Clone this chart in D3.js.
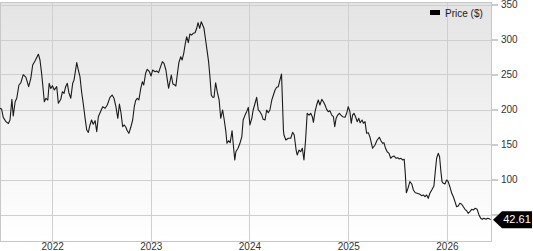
<!DOCTYPE html>
<html>
<head>
<meta charset="utf-8">
<script src="https://cdn.jsdelivr.net/npm/d3@7"></script>
<style>
  body { margin: 0; background: #fff; }
  svg { display: block; font-family: "Liberation Sans", Arial, sans-serif; }
  .tick text { fill: #333; font-size: 10px; }
</style>
</head>
<body>
<svg id="chart" width="533" height="251"></svg>
<script>
// weekly-ish closes
const dates = [
  "2021-06-22","2021-06-28","2021-07-04","2021-07-14","2021-07-23","2021-07-29","2021-08-05","2021-08-10",
  "2021-08-17","2021-08-23","2021-08-31","2021-09-07","2021-09-16","2021-09-26","2021-10-06","2021-10-14",
  "2021-10-21","2021-10-30","2021-11-11","2021-11-17","2021-11-23","2021-11-29","2021-12-03","2021-12-09",
  "2021-12-16","2021-12-21","2021-12-27","2022-01-02","2022-01-09","2022-01-18","2022-01-24","2022-02-02",
  "2022-02-08","2022-02-14","2022-02-20","2022-02-26","2022-03-04","2022-03-11","2022-03-18","2022-03-23",
  "2022-04-02","2022-04-08","2022-04-14","2022-04-20","2022-04-26","2022-05-03","2022-05-09","2022-05-15",
  "2022-05-21","2022-05-27","2022-06-02","2022-06-09","2022-06-15","2022-06-21","2022-06-27","2022-07-07",
  "2022-07-16","2022-07-24","2022-08-03","2022-08-11","2022-08-18","2022-08-25","2022-09-01","2022-09-07",
  "2022-09-13","2022-09-19","2022-09-25","2022-10-01","2022-10-06","2022-10-12","2022-10-19","2022-10-26",
  "2022-11-01","2022-11-06","2022-11-12","2022-11-18","2022-11-25","2022-12-01","2022-12-06","2022-12-13",
  "2022-12-19","2022-12-27","2023-01-02","2023-01-08","2023-01-17","2023-01-23","2023-01-30","2023-02-07",
  "2023-02-13","2023-02-19","2023-02-26","2023-03-03","2023-03-08","2023-03-13","2023-03-18","2023-03-24",
  "2023-03-31","2023-04-04","2023-04-09","2023-04-15","2023-04-22","2023-04-27","2023-05-03","2023-05-09",
  "2023-05-14","2023-05-20","2023-05-26","2023-06-01","2023-06-07","2023-06-14","2023-06-20","2023-06-25",
  "2023-07-01","2023-07-07","2023-07-17","2023-07-23","2023-07-29","2023-08-03","2023-08-08","2023-08-13",
  "2023-08-18","2023-08-23","2023-08-29","2023-09-04","2023-09-11","2023-09-17","2023-09-24","2023-09-30",
  "2023-10-06","2023-10-10","2023-10-16","2023-10-22","2023-10-29","2023-11-02","2023-11-08","2023-11-12",
  "2023-11-20","2023-11-27","2023-12-04","2023-12-09","2023-12-16","2023-12-22","2023-12-28","2024-01-03",
  "2024-01-10","2024-01-15","2024-01-22","2024-01-28","2024-02-03","2024-02-09","2024-02-16","2024-02-21",
  "2024-02-28","2024-03-05","2024-03-11","2024-03-17","2024-03-24","2024-03-30","2024-04-05","2024-04-11",
  "2024-04-17","2024-04-23","2024-04-29","2024-05-06","2024-05-08","2024-05-15","2024-05-24","2024-06-02",
  "2024-06-09","2024-06-15","2024-06-22","2024-06-26","2024-07-03","2024-07-09","2024-07-15","2024-07-21",
  "2024-07-27","2024-08-02","2024-08-09","2024-08-15","2024-08-21","2024-08-25","2024-08-31","2024-09-06",
  "2024-09-12","2024-09-18","2024-09-25","2024-10-01","2024-10-07","2024-10-13","2024-10-19","2024-10-25",
  "2024-11-01","2024-11-07","2024-11-12","2024-11-17","2024-11-23","2024-11-29","2024-12-05","2024-12-11",
  "2024-12-20","2024-12-26","2025-01-01","2025-01-07","2025-01-12","2025-01-17","2025-01-22","2025-01-28",
  "2025-02-03","2025-02-09","2025-02-14","2025-02-21","2025-02-26","2025-03-04","2025-03-10","2025-03-16",
  "2025-03-22","2025-04-01","2025-04-10","2025-04-18","2025-04-26","2025-05-02","2025-05-08","2025-05-13",
  "2025-05-19","2025-05-25","2025-06-01","2025-06-07","2025-06-13","2025-06-19","2025-06-27","2025-07-03",
  "2025-07-09","2025-07-15","2025-07-21","2025-07-27","2025-07-31","2025-08-04","2025-08-10","2025-08-17",
  "2025-08-24","2025-08-30","2025-09-06","2025-09-13","2025-09-21","2025-09-30","2025-10-06","2025-10-12",
  "2025-10-18","2025-10-24","2025-10-30","2025-11-06","2025-11-14","2025-11-19","2025-11-24","2025-11-30",
  "2025-12-05","2025-12-10","2025-12-14","2025-12-19","2025-12-25","2025-12-31","2026-01-06","2026-01-12",
  "2026-01-19","2026-01-25","2026-01-31","2026-02-06","2026-02-12","2026-02-18","2026-02-25","2026-03-03",
  "2026-03-09","2026-03-15","2026-03-21","2026-03-27","2026-04-03","2026-04-09","2026-04-15","2026-04-23",
  "2026-04-30","2026-05-06","2026-05-12","2026-05-18","2026-05-26","2026-06-01","2026-06-07","2026-06-12"
];
const prices = [
  201.6,200.7,188.8,182.6,180,185,214.5,190.7,
  211,216,235,238,249.7,246,232.6,244.5,
  263.6,269.7,279,270.7,251.7,227.9,211,216,
  213.6,237.4,230,234,228,232.6,208.9,214.6,
  225.4,223,232.6,237.4,224,216,237.4,242,
  267,256.4,246.9,225.4,208.9,187.4,170.7,167.4,
  177.9,185,179,184,168.3,189.7,195,204,
  201.7,206.4,217.4,220.7,216,204,187.4,207.9,
  194.6,175.4,177.9,174.6,169.7,166,174.6,185,
  204,212.6,216,213.6,230.3,239.7,235,251.7,
  257.4,254,247.9,256.4,254,255,252.6,262,
  268.3,266,256.4,243,230.3,239.7,249.3,236.4,
  235,233.6,249.3,266.9,275.4,270.7,280.3,294.6,
  304,295.4,307.9,306.4,308.9,309.7,316,324,
  316,325.4,316,299.3,282.6,268.3,246.9,220.7,
  217.4,217.4,238.3,225.4,213.6,187.4,199.3,185,
  168.3,151.7,155.4,152.6,169.7,151.7,127.9,139.7,
  144.6,151.7,161.1,185,192,196.9,203,177.9,
  187.4,199.3,208.9,217.4,199.3,196.9,192,186,
  185,199.3,195.4,199.3,213.6,220.7,227.9,231.7,
  232.6,242.1,250.7,170.7,163.6,156.4,158.9,158.9,
  167.4,163.6,142.1,135,142.1,139.7,144.6,127.9,
  156.4,194.6,192,194.6,189.7,181.7,196.9,206.4,
  213.6,206.4,214.5,211.1,206.4,200.2,196.9,198.3,
  192,189.7,175.4,187.4,192,194.6,192,189.7,
  188.8,194.6,204,196.9,180.3,192,194.6,189.7,
  182.6,187.4,181.1,185,180.3,182.6,166,166.9,
  161.1,144.6,149.3,156.4,160.3,155.4,151.7,152.6,
  144.6,139.7,137.4,130.3,132.6,133.6,130.3,131.2,
  129.3,130.3,127.9,128.9,108.9,81.1,87.4,96.9,
  93.6,85,81.1,80.3,79.3,76.9,77.9,75.4,
  77.9,73.1,80.3,85,90.7,111.1,130.3,137.4,
  132.6,111.1,96.9,94.6,93.6,99.3,96.9,89.7,
  80.3,75.4,68.3,61.1,62.1,66,64.6,61.1,
  57.4,55.4,51.7,54,57.4,56.4,58.9,57.4,
  49.3,44.6,43.1,44.6,43.1,44.6,44,42.61
];
const yTicks = [50, 100, 150, 200, 250, 300, 350];
const xTicks = ["2022-01-01", "2023-01-01", "2024-01-01", "2025-01-01", "2026-01-01"];
const seriesName = "Price ($)";

const parse = d3.timeParse("%Y-%m-%d");
const data = dates.map((d, i) => ({date: parse(d), value: prices[i]}));
const last = data[data.length - 1];

const svg = d3.select("#chart");
const plotLeft = 0, plotRight = 492, plotTop = 2, plotBottom = 241;

const x = d3.scaleTime()
  .domain([parse("2021-06-22"), parse("2026-06-17")])
  .range([plotLeft, plotRight]);
const y = d3.scaleLinear()
  .domain([0, 350])
  .range([249.5, 4.5]);

// background gradient
const grad = svg.append("defs").append("linearGradient")
  .attr("id", "bg").attr("x1", 0).attr("y1", 0).attr("x2", 0).attr("y2", 1);
grad.append("stop").attr("offset", "0%").attr("stop-color", "#e4e4e4");
grad.append("stop").attr("offset", "100%").attr("stop-color", "#ffffff");

svg.append("rect")
  .attr("x", plotLeft)
  .attr("y", plotTop)
  .attr("width", plotRight - plotLeft)
  .attr("height", plotBottom - plotTop)
  .attr("fill", "url(#bg)");

// grid + right axis (the 50 label sits under the last-value flag, so it is left blank)
const yAxis = svg.append("g")
  .attr("transform", `translate(${plotRight},0)`)
  .call(d3.axisRight(y).tickValues(yTicks).tickSize(6).tickPadding(3)
    .tickFormat(d => d === 50 ? "" : d));
yAxis.select(".domain").remove();
yAxis.selectAll(".tick line").attr("stroke", "#999");

svg.append("g")
  .selectAll("line")
  .data(yTicks)
  .join("line")
  .attr("x1", plotLeft)
  .attr("x2", plotRight)
  .attr("y1", d => Math.round(y(d)) + 0.5)
  .attr("y2", d => Math.round(y(d)) + 0.5)
  .attr("stroke", "#cfcfcf");

svg.append("g")
  .selectAll("line")
  .data(xTicks.map(parse))
  .join("line")
  .attr("x1", d => Math.round(x(d)) + 0.5)
  .attr("x2", d => Math.round(x(d)) + 0.5)
  .attr("y1", plotTop)
  .attr("y2", plotBottom)
  .attr("stroke", "#cfcfcf");

const xAxis = svg.append("g")
  .attr("transform", `translate(0,${plotBottom})`)
  .call(d3.axisBottom(x).tickValues(xTicks.map(parse)).tickFormat(d3.timeFormat("%Y")).tickSize(0).tickPadding(1.5));
xAxis.select(".domain").remove();

// plot frame
svg.append("rect")
  .attr("x", plotLeft + 0.5)
  .attr("y", plotTop + 0.5)
  .attr("width", plotRight - plotLeft - 1)
  .attr("height", plotBottom - plotTop)
  .attr("fill", "none")
  .attr("stroke", "#c8c8c8");

// price line
const line = d3.line()
  .x(d => x(d.date))
  .y(d => y(d.value));

svg.append("path")
  .datum(data)
  .attr("d", line)
  .attr("fill", "none")
  .attr("stroke", "#1a1a1a")
  .attr("stroke-width", 1.1)
  .attr("stroke-linejoin", "round");

// legend
svg.append("rect")
  .attr("x", 430)
  .attr("y", 10)
  .attr("width", 10)
  .attr("height", 5)
  .attr("fill", "#000");
svg.append("text")
  .attr("x", 445)
  .attr("y", 16.5)
  .attr("font-size", 10)
  .attr("fill", "#222")
  .text(seriesName);

// last value flag
const ly = y(last.value);
const flag = svg.append("g").attr("transform", `translate(${plotRight + 1},${ly})`);
flag.append("path")
  .attr("d", "M0,0 L9,-8.5 L39,-8.5 L39,8.5 L9,8.5 Z")
  .attr("fill", "#000");
flag.append("text")
  .attr("x", 24)
  .attr("y", 3.8)
  .attr("text-anchor", "middle")
  .attr("font-size", 11)
  .attr("fill", "#fff")
  .text(d3.format(".2f")(last.value));
</script>
</body>
</html>
